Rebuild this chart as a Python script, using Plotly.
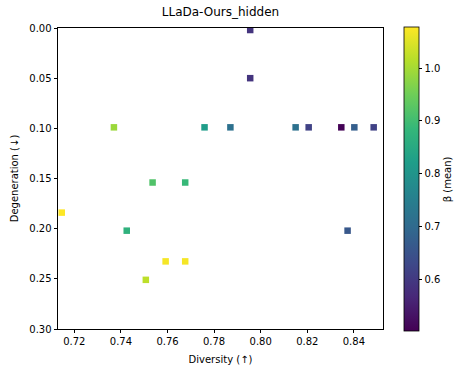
import plotly.graph_objects as go

diversity = [0.7955, 0.7955, 0.7370, 0.7759, 0.7870, 0.8150, 0.8206, 0.8346, 0.8402, 0.8485,
             0.7536, 0.7676, 0.7146, 0.7425, 0.7592, 0.7676, 0.7507, 0.8373]
degeneration = [0.002, 0.050, 0.099, 0.099, 0.099, 0.099, 0.099, 0.099, 0.099, 0.099,
                0.154, 0.154, 0.184, 0.202, 0.2326, 0.2326, 0.251, 0.202]
beta_mean = [0.590, 0.590, 0.990, 0.820, 0.715, 0.715, 0.617, 0.505, 0.675, 0.617,
             0.916, 0.888, 1.077, 0.870, 1.070, 1.070, 1.020, 0.660]

x_ticks = [0.72, 0.74, 0.76, 0.78, 0.80, 0.82, 0.84]
y_ticks = [0.00, 0.05, 0.10, 0.15, 0.20, 0.25, 0.30]
cb_ticks = [0.6, 0.7, 0.8, 0.9, 1.0]

FONT = "DejaVu Sans"

fig = go.Figure(go.Scatter(
    x=diversity, y=degeneration, mode="markers",
    marker=dict(symbol="square", size=6.5, color=beta_mean, colorscale="Viridis",
                cmin=0.502, cmax=1.077, line=dict(width=0),
                colorbar=dict(
                    title=dict(text="β (mean)", side="right", font=dict(size=10, color="black", family=FONT)),
                    tickvals=cb_ticks, ticktext=[f"{v:.1f}" for v in cb_ticks],
                    ticks="outside", ticklen=3.5, tickwidth=0.8, tickcolor="black",
                    tickfont=dict(size=10, color="black", family=FONT),
                    thickness=15, thicknessmode="pixels", len=304, lenmode="pixels",
                    x=1.064, xanchor="left", xref="paper", y=0.497, yanchor="middle",
                    outlinewidth=0.8, outlinecolor="black", ypad=0, xpad=0,
                )),
    showlegend=False,
))

axis_common = dict(showgrid=False, zeroline=False, showline=True, linecolor="black", linewidth=0.8,
                   mirror=True, ticks="outside", ticklen=3.5, tickwidth=0.8, tickcolor="black",
                   tickfont=dict(size=10, color="black", family=FONT), automargin=False)

fig.update_xaxes(range=[0.713, 0.8525], tickvals=x_ticks, ticktext=[f"{v:.2f}" for v in x_ticks],
                 title=dict(text="Diversity (↑)", font=dict(size=10, color="black", family=FONT), standoff=9),
                 **axis_common)
fig.update_yaxes(range=[0.30, 0.0], tickvals=y_ticks, ticktext=[f"{v:.2f}" for v in y_ticks],
                 title=dict(text="Degeneration (↓)", font=dict(size=10, color="black", family=FONT), standoff=8),
                 **axis_common)

fig.update_layout(
    width=459, height=367,
    margin=dict(l=58, r=75.5, t=28, b=38, pad=0, autoexpand=False),
    paper_bgcolor="white", plot_bgcolor="white",
    title=dict(text="LLaDa-Ours_hidden", x=0.5, xref="paper", xanchor="center",
               y=1 - 12 / 367, yanchor="middle", yref="container",
               font=dict(size=12, color="black", family=FONT)),
    font=dict(family=FONT, color="black"),
)

fig.write_html("out.html")
